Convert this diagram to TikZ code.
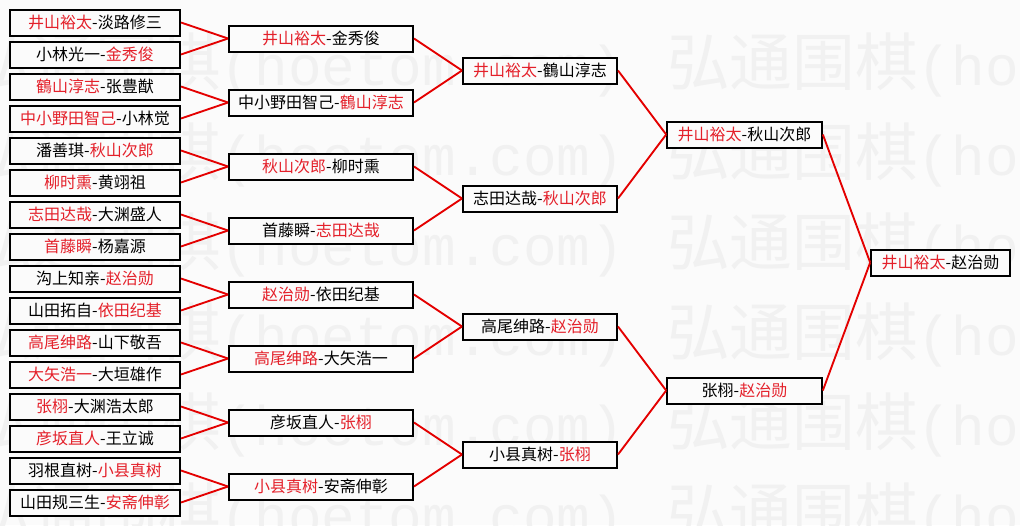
\documentclass[tikz,border=0pt]{standalone}
\usepackage{fontspec}
\setmainfont{Noto Sans CJK SC}
\newfontfamily\wmlatin{Liberation Mono}
\usepackage{tikz}
\usetikzlibrary{positioning}

\definecolor{win}{RGB}{228,32,42}
\definecolor{linkred}{RGB}{228,0,0}
\definecolor{paper}{RGB}{251,251,251}
\definecolor{wmark}{RGB}{241,241,241}

% winner on the left / on the right
\newcommand{\winL}[2]{\textcolor{win}{#1}-#2}
\newcommand{\winR}[2]{#1-\textcolor{win}{#2}}

\begin{document}
\begin{tikzpicture}[
  x=0.75pt, y=-0.75pt,
  font=\fontsize{12pt}{14pt}\selectfont,
  mbox/.style={draw, line width=1.5pt, fill=paper, minimum height=19.5pt, inner sep=0pt},
  lnk/.style={draw=linkred, line width=1.4pt},
  wm/.style={text=wmark, anchor=west, inner sep=0pt, font=\fontsize{47pt}{47pt}\selectfont}]

% =================== paper and watermark ===================
\fill[paper] (0,0) rectangle (1020,525);
\begin{scope}
  \clip (0,0) rectangle (1020,525);
  \foreach \r in {0,...,5} {
    \foreach \m in {0,1} {
      \node[wm] (wm\r\m) at ({-30+697*\m},{65+90*\r})
            {弘通围棋{\wmlatin\fontsize{42pt}{42pt}\selectfont(hoetom.com)}};
    }
  }
\end{scope}
\useasboundingbox (0,0) rectangle (1020,525);

% =================== round of 32 ===================
\foreach \i/\txt in {
   0/{\winL{井山裕太}{淡路修三}},
   1/{\winR{小林光一}{金秀俊}},
   2/{\winL{鶴山淳志}{张豊猷}},
   3/{\winL{中小野田智己}{小林觉}},
   4/{\winR{潘善琪}{秋山次郎}},
   5/{\winL{柳时熏}{黄翊祖}},
   6/{\winL{志田达哉}{大渊盛人}},
   7/{\winL{首藤瞬}{杨嘉源}},
   8/{\winR{沟上知亲}{赵治勋}},
   9/{\winR{山田拓自}{依田纪基}},
  10/{\winL{高尾绅路}{山下敬吾}},
  11/{\winL{大矢浩一}{大垣雄作}},
  12/{\winL{张栩}{大渊浩太郎}},
  13/{\winL{彦坂直人}{王立诚}},
  14/{\winR{羽根直树}{小县真树}},
  15/{\winR{山田规三生}{安斋伸彰}}} {
  \node[mbox, minimum width=127.5pt] (a\i) at (95,{22.5+32*\i}) {\txt};
}

% =================== round of 16 ===================
\foreach \i/\txt in {
  0/{\winL{井山裕太}{金秀俊}},
  1/{\winR{中小野田智己}{鶴山淳志}},
  2/{\winL{秋山次郎}{柳时熏}},
  3/{\winR{首藤瞬}{志田达哉}},
  4/{\winL{赵治勋}{依田纪基}},
  5/{\winL{高尾绅路}{大矢浩一}},
  6/{\winR{彦坂直人}{张栩}},
  7/{\winL{小县真树}{安斋伸彰}}} {
  \node[mbox, minimum width=138pt] (b\i) at (321,{38.5+64*\i}) {\txt};
}

% =================== quarter finals ===================
\foreach \i/\txt in {
  0/{\winL{井山裕太}{鶴山淳志}},
  1/{\winR{志田达哉}{秋山次郎}},
  2/{\winR{高尾绅路}{赵治勋}},
  3/{\winR{小县真树}{张栩}}} {
  \node[mbox, minimum width=115.5pt] (c\i) at (540,{70.5+128*\i}) {\txt};
}

% =================== semi finals and final ===================
\node[mbox, minimum width=116pt] (d0) at (744.5,134.5) {\winL{井山裕太}{秋山次郎}};
\node[mbox, minimum width=116pt] (d1) at (744.5,390.5) {\winR{张栩}{赵治勋}};
\node[mbox, minimum width=104pt] (e0) at (940.5,262.5) {\winL{井山裕太}{赵治勋}};

% =================== links ===================
\foreach \i in {0,...,15} {
  \pgfmathtruncatemacro\j{\i/2}
  \draw[lnk] (a\i.east) -- (b\j.west);
}
\foreach \i in {0,...,7} {
  \pgfmathtruncatemacro\j{\i/2}
  \draw[lnk] (b\i.east) -- (c\j.west);
}
\foreach \i in {0,...,3} {
  \pgfmathtruncatemacro\j{\i/2}
  \draw[lnk] (c\i.east) -- (d\j.west);
}
\draw[lnk] (d0.east) -- (e0.west);
\draw[lnk] (d1.east) -- (e0.west);
\end{tikzpicture}
\end{document}
